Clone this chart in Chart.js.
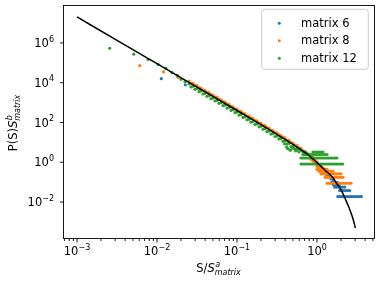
<!DOCTYPE html>
<html>
<head>
<meta charset="utf-8">
<script src="https://cdn.jsdelivr.net/npm/chart.js@4.4.1/dist/chart.umd.min.js"></script>
<style>
  html, body { margin: 0; padding: 0; background: #fff; }
  #wrap { width: 381px; height: 282px; }
</style>
</head>
<body>
<div id="wrap"><canvas id="chart" width="381" height="282"></canvas></div>
<script>
// series names / colours (matplotlib tab10)
const seriesNames = ['matrix 6', 'matrix 8', 'matrix 12'];
const seriesColors = ['#1f77b4', '#ff7f0e', '#2ca02c'];

// axis limits and ticks
const xMin = 6.68e-4, xMax = 5.16;
const yMin = 1.56e-4, yMax = 7.18e7;
const xMajorTicks = [1e-3, 1e-2, 1e-1, 1];
const xTickExps = ['\u22123', '\u22122', '\u22121', '0'];
const xMinorTicks = [7e-4, 8e-4, 9e-4,
  2e-3, 3e-3, 4e-3, 5e-3, 6e-3, 7e-3, 8e-3, 9e-3,
  0.02, 0.03, 0.04, 0.05, 0.06, 0.07, 0.08, 0.09,
  0.2, 0.3, 0.4, 0.5, 0.6, 0.7, 0.8, 0.9,
  2, 3, 4, 5];
const yMajorTicks = [1e-2, 1, 1e2, 1e4, 1e6];
const yTickExps = ['\u22122', '0', '2', '4', '6'];

// fitted curve (black line)
const fitS = [1e-3, 3.162e-3, 1e-2, 3.162e-2, 0.1, 0.316, 0.501, 0.631, 0.794, 1.0,
  1.259, 1.585, 1.778, 1.995, 2.239, 2.512, 2.818, 3.02];
const fitP = [2.02e7, 1.35e6, 9.0e4, 6.0e3, 400, 25.4, 7.9, 4.2, 2.19, 0.96,
  0.40, 0.165, 0.082, 0.042, 0.0155, 5.3e-3, 1.45e-3, 4.9e-4];

// matrix 12 (green)
const m12S = [0.00256, 0.00512, 0.00772, 0.0103, 0.0129, 0.0154, 0.018,
  0.01995, 0.02239, 0.02512, 0.02818, 0.03162, 0.03548, 0.03981, 0.04467, 0.05012, 0.05623,
  0.0631, 0.07079, 0.07943, 0.08913, 0.1, 0.1122, 0.1259, 0.1413, 0.1585, 0.1778,
  0.1995, 0.2239, 0.2512, 0.2818, 0.3162, 0.3548, 0.3981, 0.4467, 0.5012, 0.5623,
  0.02661, 0.02985, 0.0335, 0.03758, 0.04217, 0.04732, 0.05309, 0.05957, 0.06683, 0.07499,
  0.08414, 0.09441, 0.1059, 0.1189, 0.1334, 0.1496, 0.1679, 0.1884, 0.2113, 0.2371,
  0.2661, 0.2985, 0.335, 0.3758, 0.4217, 0.4732, 0.5309, 0.5957,
  0.394, 0.418, 0.43, 0.456, 0.47, 0.497, 0.52, 0.542, 0.56, 0.6, 0.63, 0.668, 0.708, 0.75];
const m12P = [5.4e5, 2.71e5, 1.47e5, 8.3e4, 5.2e4, 3.2e4, 2.31e4,
  1.48e4, 1.13e4, 8.6e3, 6.56e3, 5.01e3, 3.82e3, 2.92e3, 2.22e3, 1.69e3, 1.29e3,
  986, 752, 573, 437, 333, 254, 193, 147, 112, 85.1,
  64.6, 49.0, 37.1, 28.0, 21.1, 15.9, 11.9, 8.85, 6.56, 4.82,
  6.11e3, 4.66e3, 3.56e3, 2.71e3, 2.07e3, 1.58e3, 1.2e3, 918, 700, 533,
  406, 310, 236, 180, 137, 104, 79.4, 60.3, 45.7, 34.7,
  26.2, 19.8, 14.9, 11.2, 8.34, 6.19, 4.57, 3.34,
  8.3, 5.86, 4.9, 4.14, 4.1, 5.2, 4.9, 3.69, 4.1, 4.9, 4.1, 3.28, 3.28, 2.9];
// low-count rows of matrix 12
const m12RowLevels = [0.82, 1.64, 2.46, 3.28];
const m12RowS = [
  [0.631, 0.668, 0.708, 0.75, 0.794, 0.841, 0.891, 0.944, 1.0, 1.059, 1.122, 1.189, 1.259,
   1.334, 1.413, 1.496, 1.585, 1.679, 1.778, 1.884, 1.995, 2.09],
  [0.631, 0.668, 0.708, 0.75, 0.794, 0.841, 0.891, 0.944, 1.0, 1.059, 1.122, 1.189, 1.259,
   1.334, 1.413, 1.496, 1.585, 1.679, 1.778],
  [0.668, 0.708, 0.75, 0.794, 0.841, 0.891, 0.944, 1.0, 1.059, 1.122, 1.189, 1.259, 1.334],
  [0.891, 0.944, 1.0, 1.059, 1.122, 1.189]
];

// matrix 8 (orange)
const m8S = [0.00608, 0.0121, 0.0183,
  0.02512, 0.02818, 0.03162, 0.03548, 0.03981, 0.04467, 0.05012, 0.05623, 0.0631, 0.07079,
  0.07943, 0.08913, 0.1, 0.1122, 0.1259, 0.1413, 0.1585, 0.1778, 0.1995, 0.2239,
  0.2512, 0.2818, 0.3162, 0.3548, 0.3981, 0.4467, 0.5012, 0.5623, 0.631, 0.7079, 0.7943, 0.8913,
  0.02661, 0.02985, 0.0335, 0.03758, 0.04217, 0.04732, 0.05309, 0.05957, 0.06683, 0.07499,
  0.08414, 0.09441, 0.1059, 0.1189, 0.1334, 0.1496, 0.1679, 0.1884, 0.2113, 0.2371,
  0.2661, 0.2985, 0.335, 0.3758, 0.4217, 0.4732, 0.5309, 0.5957, 0.6683, 0.7499, 0.8414,
  0.944, 1.0, 0.944, 1.0, 1.059, 1.059, 1.122, 1.122, 1.189, 0.891, 0.841, 1.0];
const m8P = [7.2e4, 3.5e4, 1.84e4,
  1.22e4, 9.27e3, 7.08e3, 5.4e3, 4.12e3, 3.14e3, 2.39e3, 1.83e3, 1.39e3, 1.06e3,
  809, 617, 470, 358, 273, 207, 158, 120, 91.2, 69.2,
  52.4, 39.5, 29.9, 22.4, 16.8, 12.5, 9.27, 6.81, 4.95, 3.56, 2.52, 1.75,
  9.68e3, 7.38e3, 5.64e3, 4.3e3, 3.28e3, 2.5e3, 1.91e3, 1.46e3, 1.11e3, 845,
  644, 491, 374, 285, 217, 165, 126, 95.5, 72.4, 55.0,
  41.5, 31.3, 23.6, 17.7, 13.2, 9.82, 7.24, 5.3, 3.84, 2.74, 1.92,
  1.3, 1.05, 0.88, 0.79, 0.7, 0.53, 0.62, 0.44, 0.53, 1.15, 1.4, 0.62];
const m8RowLevels = [0.44, 0.352, 0.264, 0.176, 0.088];
const m8RowS = [
  [1.0, 1.059, 1.122, 1.189, 1.259, 1.334],
  [1.059, 1.122, 1.189, 1.259, 1.334, 1.413, 1.496, 1.585],
  [1.122, 1.189, 1.259, 1.334, 1.413, 1.496, 1.585, 1.679, 1.778, 1.884, 1.995],
  [1.259, 1.334, 1.413, 1.496, 1.585, 1.679, 1.778, 1.884, 1.995, 2.113],
  [1.334, 1.413, 1.496, 1.585, 1.679, 1.778, 1.884, 1.995, 2.113, 2.239, 2.371, 2.512, 2.661]
];

// matrix 6 (blue)
const m6S = [0.0113, 0.0226, 0.0349,
  0.04467, 0.05623, 0.07079, 0.08913, 0.1122, 0.1413, 0.1778, 0.2239, 0.2818, 0.3548,
  0.4467, 0.5623, 0.7079, 0.8913,
  1.0, 1.122, 1.259, 1.334, 1.413, 1.496, 1.585];
const m6P = [1.6e4, 7.8e3, 4.2e3,
  2.8e3, 1.63e3, 946, 550, 319, 185, 107, 61.7, 35.2, 20.0,
  11.1, 6.07, 3.18, 1.56,
  0.9, 0.5, 0.3, 0.23, 0.19, 0.15, 0.13];
const m6RowLevels = [0.094, 0.075, 0.0564, 0.0376, 0.0188];
const m6RowS = [
  [1.5, 1.6, 1.7, 1.8],
  [1.6, 1.7, 1.8, 1.9],
  [1.66, 1.76, 1.86, 1.97, 2.09, 2.22],
  [1.92, 2.03, 2.15, 2.28, 2.42, 2.56],
  [1.82, 1.93, 2.04, 2.16, 2.29, 2.43, 2.57, 2.72, 2.88, 3.05, 3.24, 3.43, 3.59]
];

function toPoints(sArr, pArr) {
  return sArr.map((s, i) => ({ x: s, y: pArr[i] }));
}
function rowPoints(levels, rows) {
  const out = [];
  rows.forEach((row, r) => row.forEach(s => out.push({ x: s, y: levels[r] })));
  return out;
}

const FONT = '"DejaVu Sans", "Liberation Sans", sans-serif';

// 10^n label, align 'center' or 'right'
function drawPow(ctx, exp, x, y, align) {
  ctx.font = '11.5px ' + FONT;
  const wb = ctx.measureText('10').width;
  ctx.font = '8px ' + FONT;
  const we = ctx.measureText(exp).width;
  const x0 = align === 'center' ? x - (wb + we) / 2 : x - (wb + we);
  ctx.textAlign = 'left';
  ctx.textBaseline = 'alphabetic';
  ctx.font = '11.5px ' + FONT;
  ctx.fillText('10', x0, y);
  ctx.font = '8px ' + FONT;
  ctx.fillText(exp, x0 + wb, y - 5.5);
}

// label like  "P(S)S^b_matrix"
function drawLabel(ctx, pre, sup, sub, cx, y) {
  ctx.textAlign = 'left';
  ctx.textBaseline = 'alphabetic';
  ctx.font = '11.5px ' + FONT;
  const w1 = ctx.measureText(pre).width;
  ctx.font = 'italic 11.5px ' + FONT;
  const w2 = ctx.measureText('S').width;
  ctx.font = 'italic 8px ' + FONT;
  const w3 = Math.max(ctx.measureText(sup).width, ctx.measureText(sub).width);
  const x0 = cx - (w1 + w2 + w3) / 2;
  ctx.font = '11.5px ' + FONT;
  ctx.fillText(pre, x0, y);
  ctx.font = 'italic 11.5px ' + FONT;
  ctx.fillText('S', x0 + w1, y);
  ctx.font = 'italic 8px ' + FONT;
  ctx.fillText(sup, x0 + w1 + w2 + 0.5, y - 5);
  ctx.fillText(sub, x0 + w1 + w2, y + 2.7);
}

const decor = {
  id: 'decor',
  afterDraw(chart) {
    const ctx = chart.ctx, a = chart.chartArea;
    const xs = chart.scales.x, ys = chart.scales.y;
    ctx.save();
    ctx.fillStyle = '#000';
    ctx.strokeStyle = '#000';

    // frame
    ctx.lineWidth = 0.9;
    ctx.strokeRect(a.left + 0.5, a.top - 0.5, a.right - a.left, a.bottom - a.top + 1);

    // x ticks
    ctx.beginPath();
    xMajorTicks.forEach(v => {
      const px = xs.getPixelForValue(v);
      ctx.moveTo(px, a.bottom + 1); ctx.lineTo(px, a.bottom + 4.5);
    });
    xMinorTicks.forEach(v => {
      const px = xs.getPixelForValue(v);
      ctx.moveTo(px, a.bottom + 1); ctx.lineTo(px, a.bottom + 3);
    });
    yMajorTicks.forEach(v => {
      const py = ys.getPixelForValue(v);
      ctx.moveTo(a.left + 0.5, py); ctx.lineTo(a.left - 3, py);
    });
    ctx.stroke();

    // tick labels
    xMajorTicks.forEach((v, i) => drawPow(ctx, xTickExps[i], xs.getPixelForValue(v), a.bottom + 17, 'center'));
    yMajorTicks.forEach((v, i) => drawPow(ctx, yTickExps[i], a.left - 9, ys.getPixelForValue(v) + 4.1, 'right'));

    // axis titles
    drawLabel(ctx, 'S/', 'a', 'matrix', (a.left + a.right) / 2, a.bottom + 34);
    ctx.save();
    ctx.translate(17.3, (a.top + a.bottom) / 2 + 1);
    ctx.rotate(-Math.PI / 2);
    drawLabel(ctx, 'P(S)', 'b', 'matrix', 0, 0);
    ctx.restore();

    // legend
    const lx = 261.7, ly = 9.3, lw = 106.6, lh = 60;
    ctx.beginPath();
    if (ctx.roundRect) ctx.roundRect(lx, ly, lw, lh, 3); else ctx.rect(lx, ly, lw, lh);
    ctx.fillStyle = 'rgba(255,255,255,0.8)';
    ctx.fill();
    ctx.strokeStyle = '#cccccc';
    ctx.lineWidth = 1;
    ctx.stroke();
    const rowY = [23.3, 40.7, 58.3];
    seriesNames.forEach((name, i) => {
      ctx.fillStyle = seriesColors[i];
      ctx.beginPath();
      ctx.arc(279.3, rowY[i], 1.5, 0, Math.PI * 2);
      ctx.fill();
      ctx.fillStyle = '#000';
      ctx.font = '11.5px ' + FONT;
      ctx.textAlign = 'left';
      ctx.textBaseline = 'alphabetic';
      ctx.fillText(name, 301, rowY[i] + 3.6);
    });
    ctx.restore();
  }
};

const dotStyle = (color, order) => ({
  backgroundColor: color,
  borderWidth: 0,
  pointRadius: 1.6,
  pointHoverRadius: 1.6,
  order: order
});

new Chart(document.getElementById('chart'), {
  type: 'scatter',
  data: {
    datasets: [
      Object.assign({ label: seriesNames[0],
        data: toPoints(m6S, m6P).concat(rowPoints(m6RowLevels, m6RowS)) }, dotStyle(seriesColors[0], 3)),
      Object.assign({ label: seriesNames[1],
        data: toPoints(m8S, m8P).concat(rowPoints(m8RowLevels, m8RowS)) }, dotStyle(seriesColors[1], 2)),
      Object.assign({ label: seriesNames[2],
        data: toPoints(m12S, m12P).concat(rowPoints(m12RowLevels, m12RowS)) }, dotStyle(seriesColors[2], 1)),
      {
        type: 'line',
        label: 'fit',
        data: toPoints(fitS, fitP),
        borderColor: '#000',
        borderWidth: 1.5,
        pointRadius: 0,
        fill: false,
        cubicInterpolationMode: 'monotone',
        order: 0
      }
    ]
  },
  options: {
    responsive: false,
    animation: false,
    devicePixelRatio: 1,
    layout: { padding: { top: 6, right: 7, left: 0, bottom: 0 } },
    plugins: { legend: { display: false }, tooltip: { enabled: false } },
    scales: {
      x: {
        type: 'logarithmic', min: xMin, max: xMax, bounds: 'data',
        grid: { display: false }, border: { display: false },
        ticks: { display: false },
        afterFit: s => { s.height = 44; }
      },
      y: {
        type: 'logarithmic', min: yMin, max: yMax, bounds: 'data',
        grid: { display: false }, border: { display: false },
        ticks: { display: false },
        afterFit: s => { s.width = 63; }
      }
    }
  },
  plugins: [decor]
});
</script>
</body>
</html>
